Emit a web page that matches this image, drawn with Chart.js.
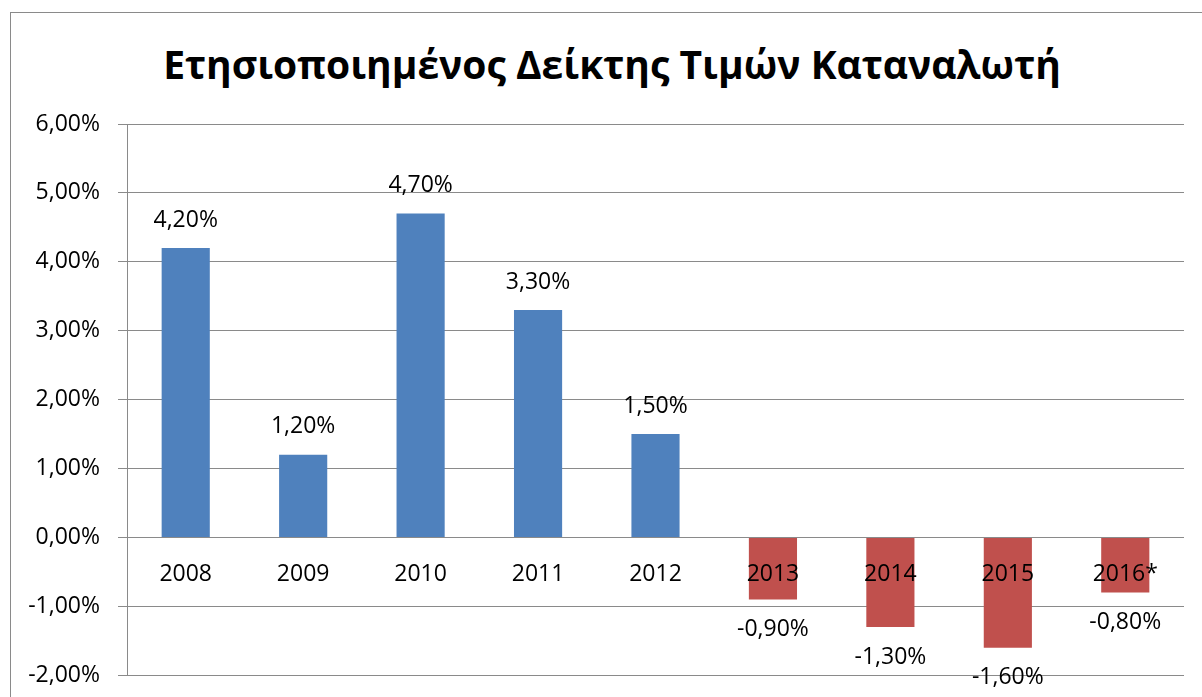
<!DOCTYPE html>
<html>
<head>
<meta charset="utf-8">
<script src="https://cdn.jsdelivr.net/npm/chart.js@4"></script>
<style>
  html, body { margin: 0; padding: 0; background: #fff; overflow: hidden; }
  #frame { position: absolute; left: 10px; top: 12px; width: 1300px; height: 800px;
           border-left: 1px solid #8a8a8a; border-top: 1px solid #8a8a8a; }
  #title { position: absolute; left: 12px; width: 1200px; top: 38px; text-align: center;
           font-family: 'Open Sans', sans-serif; font-weight: bold; font-size: 39px;
           line-height: 52px; color: #000; }
  #wrap { position: absolute; left: 0; top: 0; width: 1202px; height: 707px; }
</style>
</head>
<body>
<div id="frame"></div>
<div id="title">Ετησιοποιημένος Δείκτης Τιμών Καταναλωτή</div>
<div id="wrap"><canvas id="cpiChart"></canvas></div>
<script>
//CPI BAR CHART SCRIPT

var years = ['2008', '2009', '2010', '2011', '2012', '2013', '2014', '2015', '2016*'];
var cpiValues = [4.2, 1.2, 4.7, 3.3, 1.5, -0.9, -1.3, -1.6, -0.8];
var yTicks = [-2, -1, 0, 1, 2, 3, 4, 5, 6];

var blue = '#4F81BD';
var red = '#C0504D';
var font = "'Open Sans', sans-serif";

function pct(v) {
  return v.toFixed(2).replace('.', ',') + '%';
}

// value labels above / below each bar
var valueLabels = {
  id: 'valueLabels',
  afterDatasetsDraw: function (chart) {
    var ctx = chart.ctx;
    var meta = chart.getDatasetMeta(0);
    ctx.save();
    ctx.font = '23px ' + font;
    ctx.fillStyle = '#000';
    ctx.textAlign = 'center';
    ctx.textBaseline = 'middle';
    meta.data.forEach(function (bar, i) {
      var v = cpiValues[i];
      var y = v >= 0 ? bar.y - 28 : bar.y + 30;
      ctx.fillText(pct(v), bar.x, y);
    });
    ctx.restore();
  }
};

var ctxBar = document.getElementById('cpiChart').getContext('2d');
var myChart = new Chart(ctxBar, {
  type: 'bar',
  data: {
    labels: years,
    datasets: [{
      label: 'ΔΤΚ',
      data: cpiValues,
      backgroundColor: cpiValues.map(function (v) { return v >= 0 ? blue : red; }),
      barPercentage: 0.41,
      categoryPercentage: 1
    }]
  },
  options: {
    responsive: true,
    maintainAspectRatio: false,
    animation: false,
    layout: {
      padding: { left: 0, right: 18, top: 124, bottom: 12 }
    },
    plugins: {
      legend: { display: false },
      tooltip: { enabled: false },
      title: { display: false }
    },
    scales: {
      x: {
        position: { y: 0 },
        grid: { display: false, drawTicks: false },
        border: { display: false },
        ticks: {
          color: '#000',
          font: { family: font, size: 23 },
          padding: 23,
          maxRotation: 0,
          autoSkip: false,
          z: 1
        }
      },
      y: {
        min: -2,
        max: 6,
        afterBuildTicks: function (scale) {
          scale.ticks = yTicks.map(function (v) { return { value: v }; });
        },
        afterFit: function (scale) {
          scale.width = 127;
        },
        grid: { color: '#8a8a8a', lineWidth: 1, tickLength: 9, drawTicks: true },
        border: { color: '#8a8a8a', width: 1 },
        ticks: {
          color: '#000',
          font: { family: font, size: 23 },
          padding: 18,
          callback: function (v) { return pct(v); }
        }
      }
    }
  },
  plugins: [valueLabels]
});
</script>
</body>
</html>
